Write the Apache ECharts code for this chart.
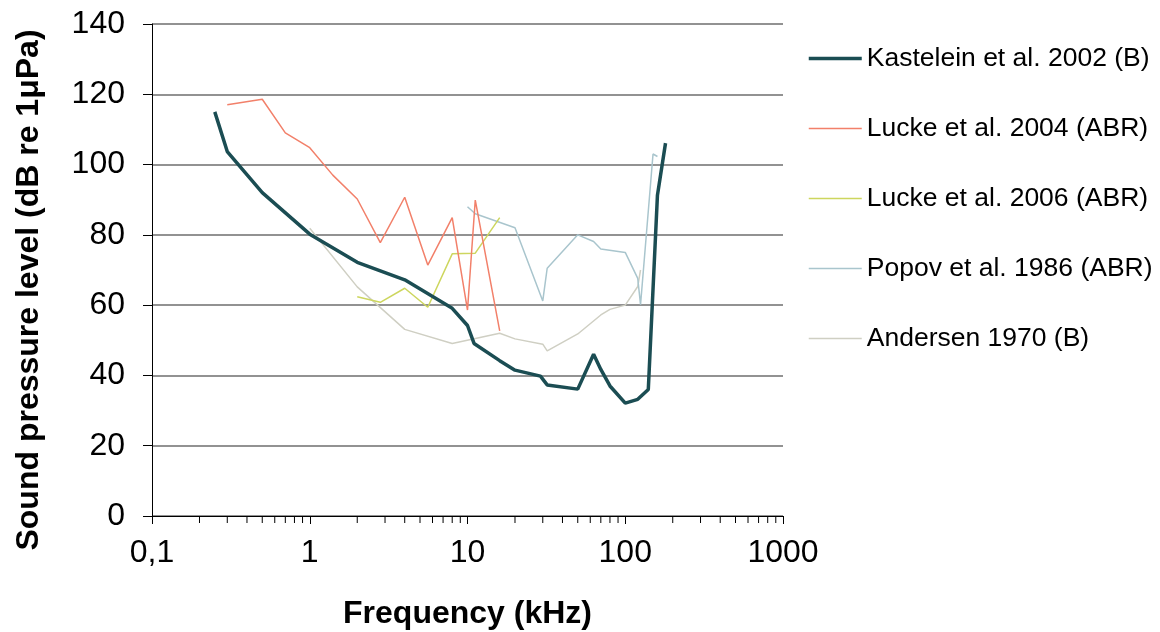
<!DOCTYPE html>
<html>
<head>
<meta charset="utf-8">
<script src="https://cdn.jsdelivr.net/npm/echarts@6/dist/echarts.min.js"></script>
<style>
html,body{margin:0;padding:0;background:#fff;}
#chart{width:1160px;height:632px;}
</style>
</head>
<body>
<div id="chart"></div>
<script>
// Frequency in kHz, level in dB re 1 µPa
const kastelein2002 = [[0.25,115],[0.3,103.7],[0.5,92],[1,80.2],[2,72.2],[4,67.2],[8,59.1],[10,54.2],[11,49.1],[16,44.2],[20,41.5],[29,39.8],[32,37.3],[50,36.1],[63,46],[70,41.7],[80,37],[100,32.1],[120,33.2],[140,36],[160,91.3],[180,106.1]];
const lucke2004 = [[0.3,117],[0.5,118.6],[0.7,109],[1,104.8],[1.4,97],[2,90.2],[2.8,77.8],[4,90.7],[5.6,71.4],[8,84.9],[10,58.6],[11.2,89.9],[16,52.7]];
const lucke2006 = [[2,62.4],[2.8,60.8],[4,64.8],[5.6,59.4],[8,74.6],[11.2,74.8],[16,84.9]];
const popov1986 = [[10,88],[11.2,86],[20,82],[30,61.2],[32,70.5],[50,80],[63,78.1],[70,76],[100,75],[120,67.6],[125,60.1],[150,103],[160,102.3]];
const andersen1970 = [[1,81.9],[2,65.2],[4,53.1],[8,49.1],[16,52],[20,50.4],[30,48.9],[32,47],[50,51.8],[70,57.2],[80,58.8],[100,60],[120,65.3],[125,70]];
const seriesNames = ['Kastelein et al. 2002 (B)','Lucke et al. 2004 (ABR)','Lucke et al. 2006 (ABR)','Popov et al. 1986 (ABR)','Andersen 1970 (B)'];
const yTicks = [0,20,40,60,80,100,120,140];
const xMinorTicks = [0.2,0.3,0.4,0.5,0.6,0.7,0.8,0.9,2,3,4,5,6,7,8,9,20,30,40,50,60,70,80,90,200,300,400,500,600,700,800,900];

const colors = ['#1b4d53','#f2806a','#cdd65e','#a9c5cd','#cfcfc3'];
const widths = [3.5,1.5,1.5,1.5,1.5];

const chart = echarts.init(document.getElementById('chart'), null, {renderer:'canvas'});
const font = 'Liberation Sans, Arial, sans-serif';
function lineSeries(i, data, z){
  return {name:seriesNames[i], type:'line', data:data, symbol:'none', z:z,
    lineStyle:{color:colors[i], width:widths[i]}, itemStyle:{color:colors[i]}, animation:false};
}
chart.setOption({
  animation:false,
  textStyle:{fontFamily:font},
  grid:{left:152, right:377, top:24, bottom:116, containLabel:false, outerBoundsMode:'none'},
  legend:{
    orient:'vertical', left:802, top:40, itemWidth:53, itemHeight:4, itemGap:43,
    itemStyle:{opacity:0},
    data:seriesNames.map(function(n,i){
      return {name:n, lineStyle:{color:colors[i], width:widths[i]}};
    }),
    textStyle:{fontSize:26.5, color:'#000', fontFamily:font}
  },
  xAxis:{
    type:'log', logBase:10, min:0.1, max:1000,
    name:'Frequency (kHz)', nameLocation:'middle', nameGap:82,
    nameTextStyle:{fontSize:32, fontWeight:'bold', color:'#000', fontFamily:font},
    axisLine:{lineStyle:{color:'#000', width:1}},
    axisTick:{show:true, inside:false, length:8, lineStyle:{color:'#000'}},
    minorTick:{show:false},
    splitLine:{show:false},
    axisLabel:{fontSize:32, color:'#000', margin:21, fontFamily:font,
      formatter:function(v){ return v < 1 ? '0,1' : String(Math.round(v)); }}
  },
  yAxis:{
    type:'value', min:0, max:140, interval:20,
    name:'Sound pressure level (dB re 1\u03bcPa)', nameLocation:'middle', nameGap:107, nameRotate:90,
    nameTextStyle:{fontSize:32, fontWeight:'bold', color:'#000', fontFamily:font, padding:[0,40,0,0]},
    axisLine:{show:true, lineStyle:{color:'#000', width:1}},
    axisTick:{show:true, length:9, lineStyle:{color:'#000'}},
    splitLine:{show:true, lineStyle:{color:'#6e6e6e', width:1.5}},
    axisLabel:{fontSize:32, color:'#000', margin:27, fontFamily:font}
  },
  series:[
    lineSeries(4, andersen1970, 2),
    lineSeries(3, popov1986, 3),
    lineSeries(2, lucke2006, 4),
    lineSeries(1, lucke2004, 5),
    lineSeries(0, kastelein2002, 6),
    {
      type:'custom', name:'minorTicks', silent:true, clip:false, z:10,
      data:xMinorTicks.map(function(v){return [v,0];}),
      renderItem:function(params, api){
        const p = api.coord([api.value(0), 0]);
        return {type:'line', shape:{x1:p[0], y1:p[1], x2:p[0], y2:p[1]+7},
          style:{stroke:'#000', lineWidth:1}};
      }
    }
  ]
});
</script>
</body>
</html>
